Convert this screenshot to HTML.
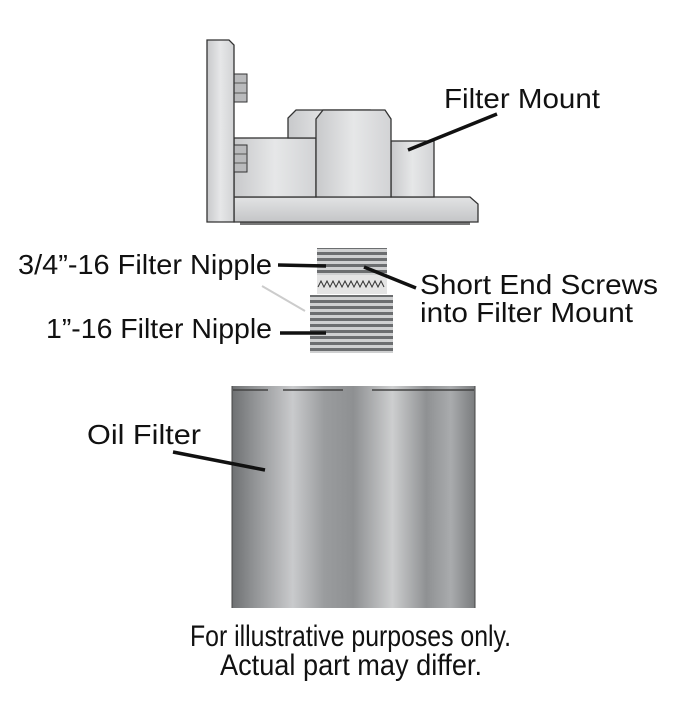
<!DOCTYPE html>
<html><head><meta charset="utf-8"><style>html,body{margin:0;padding:0;background:#fff}svg{display:block}</style></head>
<body>
<svg width="700" height="726" viewBox="0 0 700 726" xmlns="http://www.w3.org/2000/svg" font-family="Liberation Sans, Arial, sans-serif">
<defs>
<linearGradient id="fg" x1="0" x2="1" y1="0" y2="0">
<stop offset="0" stop-color="#6e7072"/>
<stop offset="0.08" stop-color="#8d8f91"/>
<stop offset="0.25" stop-color="#c9cacc"/>
<stop offset="0.38" stop-color="#9a9c9e"/>
<stop offset="0.5" stop-color="#8e9092"/>
<stop offset="0.66" stop-color="#cdcecf"/>
<stop offset="0.8" stop-color="#8f9193"/>
<stop offset="0.9" stop-color="#a9abad"/>
<stop offset="1" stop-color="#7a7c7e"/>
</linearGradient>
<linearGradient id="mg" x1="0" x2="1" y1="0" y2="0">
<stop offset="0" stop-color="#c8c9cb"/><stop offset="0.5" stop-color="#e6e7e8"/><stop offset="1" stop-color="#d2d3d5"/>
</linearGradient>
<linearGradient id="bg" x1="0" x2="0" y1="0" y2="1">
<stop offset="0" stop-color="#e2e3e4"/><stop offset="1" stop-color="#c4c5c7"/>
</linearGradient>
<pattern id="thr" width="8" height="6" patternUnits="userSpaceOnUse">
<rect width="8" height="6" fill="#cfd0d1"/><rect y="0" width="8" height="3" fill="#6c6e70"/>
</pattern>
</defs>
<rect x="240" y="222" width="230" height="3" fill="#777"/>
<path d="M234 197 H470 L478 204 V222 H234 Z" fill="url(#bg)" stroke="#333" stroke-width="1.3"/>
<rect x="234" y="138" width="82" height="59" fill="url(#mg)" stroke="#333" stroke-width="1.3"/>
<rect x="391" y="141" width="43" height="56" fill="url(#mg)" stroke="#333" stroke-width="1.3"/>
<path d="M288 138 V118 L296 110 H370 V138 Z" fill="url(#mg)" stroke="#333" stroke-width="1.3"/>
<path d="M316 197 V119 L323 110 H385 L391 119 V197 Z" fill="url(#mg)" stroke="#333" stroke-width="1.3"/>
<rect x="234" y="74" width="13" height="28" fill="#b9babc" stroke="#333" stroke-width="1"/>
<line x1="234" y1="83" x2="247" y2="83" stroke="#555"/><line x1="234" y1="93" x2="247" y2="93" stroke="#555"/>
<rect x="234" y="145" width="13" height="27" fill="#b9babc" stroke="#333" stroke-width="1"/>
<line x1="234" y1="154" x2="247" y2="154" stroke="#555"/><line x1="234" y1="163" x2="247" y2="163" stroke="#555"/>
<path d="M207 40 H229 L234 45 V222 H207 Z" fill="url(#mg)" stroke="#333" stroke-width="1.3"/>
<rect x="317" y="248" width="70" height="27" fill="url(#thr)"/>
<rect x="317" y="275" width="70" height="19" fill="#e4e4e4"/>
<polyline points="318,287 321,281 324,287 327,281 330,287 333,281 336,287 339,281 342,287 345,281 348,287 351,281 354,287 357,281 360,287 363,281 366,287 369,281 372,287 375,281 378,287 381,281 384,287" fill="none" stroke="#333" stroke-width="1"/>
<rect x="310" y="295" width="83" height="58" fill="url(#thr)"/>
<line x1="262" y1="286" x2="305" y2="311" stroke="#ccc" stroke-width="2"/>
<rect x="232" y="386" width="243" height="222" fill="url(#fg)"/>
<line x1="232" y1="386" x2="232" y2="608" stroke="#444"/>
<line x1="475" y1="386" x2="475" y2="608" stroke="#444"/>
<line x1="233" y1="390" x2="268" y2="390" stroke="#444" stroke-width="1.5"/>
<line x1="283" y1="390" x2="343" y2="390" stroke="#444" stroke-width="1.5"/>
<line x1="372" y1="390" x2="474" y2="390" stroke="#444" stroke-width="1.5"/>
<g stroke="#111" stroke-width="3.5" stroke-linecap="butt">
<line x1="408" y1="150" x2="497" y2="114"/>
<line x1="278" y1="265" x2="326" y2="266"/>
<line x1="364" y1="267" x2="416" y2="288"/>
<line x1="280" y1="333" x2="326" y2="333"/>
<line x1="173" y1="452" x2="265" y2="470"/>
</g>
<g fill="#111" font-size="28">
<text x="444" y="108" textLength="156" lengthAdjust="spacingAndGlyphs">Filter Mount</text>
<text x="18" y="274" textLength="254" lengthAdjust="spacingAndGlyphs">3/4”-16 Filter Nipple</text>
<text x="420" y="294" textLength="238" lengthAdjust="spacingAndGlyphs">Short End Screws</text>
<text x="420" y="322" textLength="213" lengthAdjust="spacingAndGlyphs">into Filter Mount</text>
<text x="46" y="338" textLength="226" lengthAdjust="spacingAndGlyphs">1”-16 Filter Nipple</text>
<text x="87" y="444" textLength="114" lengthAdjust="spacingAndGlyphs">Oil Filter</text>
</g>
<g fill="#111" font-size="30">
<text x="190" y="646" textLength="321" lengthAdjust="spacingAndGlyphs">For illustrative purposes only.</text>
<text x="220" y="675" textLength="262" lengthAdjust="spacingAndGlyphs">Actual part may differ.</text>
</g>
</svg>
</body></html>
